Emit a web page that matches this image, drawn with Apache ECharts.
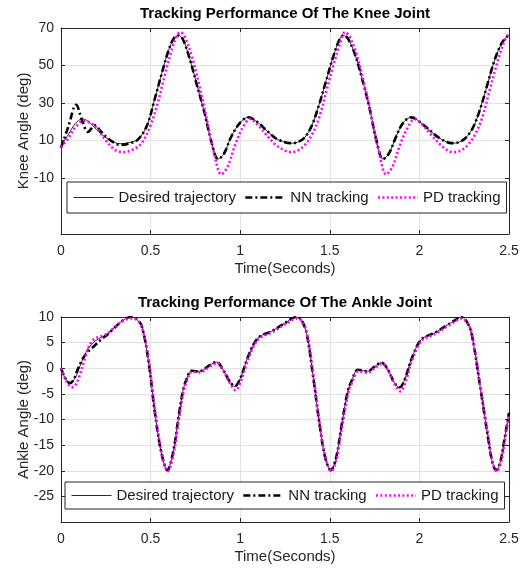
<!DOCTYPE html>
<html>
<head>
<meta charset="utf-8">
<script src="https://cdn.jsdelivr.net/npm/echarts@6/dist/echarts.min.js"></script>
<style>
  html, body { margin: 0; padding: 0; background: #fff; }
  #chart { width: 522px; height: 569px; }
</style>
</head>
<body>
<div id="chart"></div>
<script>
// ---- Knee joint (deg) ----
const kneeDesiredT = [0, 0.04, 0.08, 0.12, 0.16, 0.2, 0.25, 0.3, 0.33, 0.38, 0.43, 0.48, 0.52, 0.56, 0.6, 0.63, 0.655, 0.68, 0.72, 0.76, 0.8, 0.84, 0.877, 0.91, 0.95, 1.0, 1.045, 1.1, 1.15, 1.2, 1.25, 1.28, 1.32, 1.36, 1.4, 1.44, 1.48, 1.52, 1.555, 1.575, 1.6, 1.64, 1.68, 1.72, 1.76, 1.797, 1.83, 1.87, 1.91, 1.955, 2.0, 2.05, 2.1, 2.15, 2.18, 2.22, 2.26, 2.3, 2.34, 2.38, 2.42, 2.46, 2.5];
const kneeDesired = [7, 13, 19, 21.5, 19.5, 15.5, 11.5, 8.8, 8.2, 8.8, 10.5, 18, 31, 45, 58, 64.5, 66, 64, 53, 39, 25, 9, 0, 3, 12, 19.5, 22.3, 19.5, 15, 11, 9, 8.5, 9, 11.5, 18, 29, 42, 55, 64, 66, 64.5, 56, 43, 28, 10, 0, 3, 12, 19.5, 22.3, 20, 16, 12, 9.2, 8.5, 9, 11.5, 17, 27, 40, 53, 62, 66.5];

const kneeNNT = [0, 0.04, 0.084, 0.12, 0.15, 0.19, 0.22, 0.25, 0.3, 0.33, 0.38, 0.43, 0.48, 0.52, 0.56, 0.6, 0.63, 0.655, 0.68, 0.72, 0.76, 0.8, 0.84, 0.877, 0.91, 0.95, 1.0, 1.045, 1.1, 1.15, 1.2, 1.25, 1.28, 1.32, 1.36, 1.4, 1.44, 1.48, 1.52, 1.555, 1.575, 1.6, 1.64, 1.68, 1.72, 1.76, 1.797, 1.83, 1.87, 1.91, 1.955, 2.0, 2.05, 2.1, 2.15, 2.18, 2.22, 2.26, 2.3, 2.34, 2.38, 2.42, 2.46, 2.5];
const kneeNN = [6, 17, 29, 20, 14.5, 18, 15, 12, 8.5, 7.5, 8.3, 10.5, 18, 31, 45, 58, 64.5, 66, 64, 53, 39, 25, 9, 0, 3, 12, 19.5, 22.3, 19.5, 15, 11, 9, 8.5, 9, 11.5, 18, 29, 42, 55, 64, 66, 64.5, 56, 43, 28, 10, 0, 3, 12, 19.5, 22.3, 20, 16, 12, 9.2, 8.5, 9, 11.5, 17, 27, 40, 53, 62, 66.5];

const kneePDT = [0, 0.04, 0.08, 0.13, 0.17, 0.2, 0.25, 0.3, 0.35, 0.4, 0.45, 0.5, 0.54, 0.58, 0.62, 0.645, 0.665, 0.69, 0.73, 0.77, 0.81, 0.85, 0.895, 0.93, 0.97, 1.01, 1.055, 1.1, 1.15, 1.2, 1.25, 1.28, 1.32, 1.36, 1.4, 1.44, 1.48, 1.52, 1.555, 1.585, 1.61, 1.65, 1.69, 1.73, 1.77, 1.815, 1.85, 1.89, 1.93, 1.975, 2.02, 2.07, 2.12, 2.16, 2.19, 2.23, 2.27, 2.31, 2.35, 2.39, 2.43, 2.47, 2.5];
const kneePD = [6.3, 11, 17, 20.5, 19, 16.5, 10, 5, 3.7, 5, 8.5, 18, 30, 45, 59, 65.5, 67.8, 65.5, 55, 40, 23, 5, -8.2, -4, 7, 16, 21.4, 18, 12.5, 7.5, 4.5, 3.7, 4.5, 7.5, 13, 22, 36, 50, 61, 67.8, 65.5, 56, 41, 24, 6, -8.2, -4, 7, 16, 21.4, 18, 12.5, 7.5, 4.5, 3.7, 4.5, 7.5, 13, 22, 36, 50, 62, 67.5];

// ---- Ankle joint (deg) ----
const ankleDesiredT = [0, 0.025, 0.05, 0.08, 0.11, 0.15, 0.19, 0.23, 0.26, 0.29, 0.34, 0.39, 0.42, 0.45, 0.487, 0.524, 0.56, 0.593, 0.625, 0.654, 0.68, 0.7, 0.728, 0.76, 0.784, 0.83, 0.868, 0.9, 0.94, 0.97, 1.0, 1.044, 1.08, 1.109, 1.174, 1.249, 1.314, 1.34, 1.37, 1.407, 1.444, 1.475, 1.505, 1.535, 1.565, 1.6, 1.62, 1.657, 1.69, 1.71, 1.75, 1.788, 1.82, 1.86, 1.89, 1.92, 1.955, 2.01, 2.085, 2.159, 2.2, 2.23, 2.26, 2.29, 2.336, 2.382, 2.405, 2.428, 2.45, 2.471, 2.5];
const ankleDesired = [0, -2, -2.8, -1.8, 0.8, 3.8, 5.3, 6.1, 6.7, 7.7, 9.2, 10, 9.6, 8.3, 1.7, -8.7, -16.5, -19.9, -16.5, -10, -4.5, -2.2, -0.5, -0.6, -0.5, 0.6, 1.2, 0, -2.5, -3.6, -2, 2.3, 5, 6.2, 7.2, 8.8, 10, 9.5, 6.9, -1.6, -11.3, -17.5, -19.9, -17.5, -11.3, -4.5, -2.6, -0.3, -0.5, -0.6, 0.3, 1.1, 0, -2.8, -3.8, -2, 1.7, 5.6, 6.9, 8.5, 9.4, 10, 9.3, 6.9, -2.9, -13.3, -18, -19.9, -18.5, -14.6, -8.7];

const ankleNNT = [0, 0.025, 0.05, 0.07, 0.09, 0.12, 0.15, 0.19, 0.23, 0.26, 0.29, 0.34, 0.39, 0.42, 0.45, 0.487, 0.524, 0.56, 0.593, 0.625, 0.654, 0.68, 0.7, 0.728, 0.76, 0.784, 0.83, 0.868, 0.9, 0.94, 0.97, 1.0, 1.044, 1.08, 1.109, 1.174, 1.249, 1.314, 1.34, 1.37, 1.407, 1.444, 1.475, 1.505, 1.535, 1.565, 1.6, 1.62, 1.657, 1.69, 1.71, 1.75, 1.788, 1.82, 1.86, 1.89, 1.92, 1.955, 2.01, 2.085, 2.159, 2.2, 2.23, 2.26, 2.29, 2.336, 2.382, 2.405, 2.428, 2.45, 2.471, 2.5];
const ankleNN = [0, -2, -2.9, -2.3, -0.5, 1.8, 3.2, 4.5, 5.8, 6.6, 7.6, 9.2, 10, 9.6, 8.3, 1.7, -8.7, -16.5, -19.9, -16.5, -10, -4.5, -2.2, -0.5, -0.6, -0.5, 0.6, 1.2, 0, -2.5, -3.5, -2, 2.3, 5, 6.2, 7.2, 8.8, 10, 9.5, 6.9, -1.6, -11.3, -17.5, -19.9, -17.5, -11.3, -4.5, -2.6, -0.3, -0.5, -0.6, 0.3, 1.1, 0, -2.8, -3.7, -2, 1.7, 5.6, 6.9, 8.5, 9.4, 10, 9.3, 6.9, -2.9, -13.3, -18, -19.9, -18.5, -14.6, -8.7];

const anklePDT = [0, 0.03, 0.06, 0.08, 0.1, 0.13, 0.16, 0.19, 0.23, 0.26, 0.29, 0.34, 0.39, 0.42, 0.45, 0.49, 0.527, 0.563, 0.596, 0.628, 0.657, 0.683, 0.703, 0.731, 0.763, 0.787, 0.833, 0.871, 0.903, 0.943, 0.975, 1.005, 1.047, 1.083, 1.112, 1.177, 1.252, 1.317, 1.343, 1.373, 1.41, 1.447, 1.478, 1.508, 1.538, 1.568, 1.603, 1.623, 1.66, 1.693, 1.713, 1.753, 1.791, 1.823, 1.863, 1.895, 1.925, 1.958, 2.013, 2.088, 2.162, 2.203, 2.233, 2.263, 2.293, 2.339, 2.385, 2.408, 2.431, 2.453, 2.474, 2.5];
const anklePD = [0, -2.5, -3.7, -3.3, -1.8, 1.5, 4.6, 5.8, 6.3, 6.8, 7.7, 9.1, 9.7, 9.5, 8.2, 1.5, -8.9, -16.7, -20.1, -16.7, -10.2, -4.8, -2.4, -0.7, -0.8, -0.7, 0.4, 1.0, -0.3, -2.9, -4.3, -2.4, 2.0, 4.8, 6.0, 7.0, 8.6, 9.7, 9.3, 6.7, -1.8, -11.5, -17.7, -20.1, -17.7, -11.5, -4.8, -2.9, -0.6, -0.8, -0.9, 0.1, 0.9, -0.3, -3.2, -4.5, -2.4, 1.4, 5.4, 6.7, 8.3, 9.2, 9.7, 9.1, 6.7, -3.1, -13.5, -18.2, -20.1, -18.7, -14.8, -8.9];

// ---- Axis ticks ----
const timeTicks = [0, 0.5, 1, 1.5, 2, 2.5];
const kneeTicks = [-10, 10, 30, 50, 70];
const ankleTicks = [-25, -20, -15, -10, -5, 0, 5, 10];

const seriesNames = ['Desired trajectory', 'NN tracking', 'PD tracking'];

const FONT = '"Liberation Sans", Arial, Helvetica, sans-serif';
const AXIS_COLOR = '#262626';
const GRID_COLOR = '#e2e2e2';

// line styles shared by the plotted curves and their legend keys
const lineStyles = [
  { color: '#2b2b2b', width: 1, type: 'solid' },
  { color: '#000000', width: 2.6, type: [7, 3, 2, 3] },
  { color: '#ff00ff', width: 2.6, type: [2, 2.4] }
];

function zip(t, v) { return t.map((x, i) => [x, v[i]]); }

function xAxes(gridIndex) {
  const common = {
    gridIndex, type: 'value', min: timeTicks[0], max: timeTicks[timeTicks.length - 1], interval: 0.5,
    axisLine: { onZero: false, lineStyle: { color: AXIS_COLOR, width: 1 } },
    axisTick: { inside: true, length: 4, lineStyle: { color: AXIS_COLOR } }
  };
  return [
    Object.assign({}, common, {
      position: 'bottom',
      axisLabel: { fontFamily: FONT, fontSize: 14, color: AXIS_COLOR, margin: 10 },
      splitLine: { show: true, lineStyle: { color: GRID_COLOR, width: 1 } },
      name: 'Time(Seconds)', nameLocation: 'middle', nameGap: 27, nameMoveOverlap: false,
      nameTextStyle: { fontFamily: FONT, fontSize: 15, color: AXIS_COLOR }
    }),
    Object.assign({}, common, {
      position: 'top',
      axisLabel: { show: false },
      splitLine: { show: false }
    })
  ];
}

function yAxes(gridIndex, min, max, ticks, name) {
  const common = {
    gridIndex, type: 'value', min, max,
    axisLine: { onZero: false, lineStyle: { color: AXIS_COLOR, width: 1 } },
    axisTick: { inside: true, length: 4, customValues: ticks, lineStyle: { color: AXIS_COLOR } }
  };
  return [
    Object.assign({}, common, {
      position: 'left',
      axisLabel: { customValues: ticks, fontFamily: FONT, fontSize: 14, color: AXIS_COLOR, margin: 7 },
      splitLine: { show: true, lineStyle: { color: GRID_COLOR, width: 1 } },
      name, nameLocation: 'middle', nameGap: 30, nameMoveOverlap: false,
      nameTextStyle: { fontFamily: FONT, fontSize: 15, color: AXIS_COLOR }
    }),
    Object.assign({}, common, {
      position: 'right',
      axisLabel: { show: false },
      splitLine: { show: false }
    })
  ];
}

function jointSeries(axisIdx, desiredT, desired, nnT, nn, pdT, pd) {
  const base = {
    type: 'line', xAxisIndex: axisIdx, yAxisIndex: axisIdx,
    showSymbol: false, symbol: 'none', smooth: 0.35, animation: false
  };
  const pairs = [[desiredT, desired], [nnT, nn], [pdT, pd]];
  return pairs.map((p, i) => Object.assign({}, base, {
    name: seriesNames[i], data: zip(p[0], p[1]), z: 2 + i,
    lineStyle: lineStyles[i],
    itemStyle: { color: lineStyles[i].color }
  }));
}

function legendAt(left, top, padding) {
  return {
    data: seriesNames.map((n, i) => ({ name: n, lineStyle: Object.assign({}, lineStyles[i]) })),
    left, top, orient: 'horizontal',
    itemWidth: 40, itemHeight: 14, itemGap: 8, padding,
    borderColor: AXIS_COLOR, borderWidth: 1, backgroundColor: '#ffffff',
    selectedMode: false,
    // line-only keys: hide the marker drawn in the middle of each key
    itemStyle: { opacity: 0 },
    textStyle: { fontFamily: FONT, fontSize: 15, color: '#1a1a1a' }
  };
}

const chart = echarts.init(document.getElementById('chart'), null, { renderer: 'canvas' });
chart.setOption({
  backgroundColor: '#ffffff',
  animation: false,
  title: [
    { text: 'Tracking Performance Of The Knee Joint', left: 285, top: 6, textAlign: 'center', padding: 0,
      textStyle: { fontFamily: FONT, fontSize: 15, fontWeight: 'bold', color: '#000' } },
    { text: 'Tracking Performance Of The Ankle Joint', left: 285, top: 295, textAlign: 'center', padding: 0,
      textStyle: { fontFamily: FONT, fontSize: 15, fontWeight: 'bold', color: '#000' } }
  ],
  grid: [
    { left: 61, top: 28, width: 448, height: 206, outerBoundsMode: 'none', containLabel: false },
    { left: 61, top: 317, width: 448, height: 205, outerBoundsMode: 'none', containLabel: false }
  ],
  legend: [
    legendAt(67, 182, [8, 6]),
    legendAt(65, 482, [6, 6])
  ],
  xAxis: [].concat(xAxes(0), xAxes(1)),
  yAxis: [].concat(
    yAxes(0, -40, 70, kneeTicks, 'Knee Angle (deg)'),
    yAxes(1, -30, 10, ankleTicks, 'Ankle Angle (deg)')
  ),
  series: [].concat(
    jointSeries(0, kneeDesiredT, kneeDesired, kneeNNT, kneeNN, kneePDT, kneePD),
    jointSeries(2, ankleDesiredT, ankleDesired, ankleNNT, ankleNN, anklePDT, anklePD)
  )
});
</script>
</body>
</html>
